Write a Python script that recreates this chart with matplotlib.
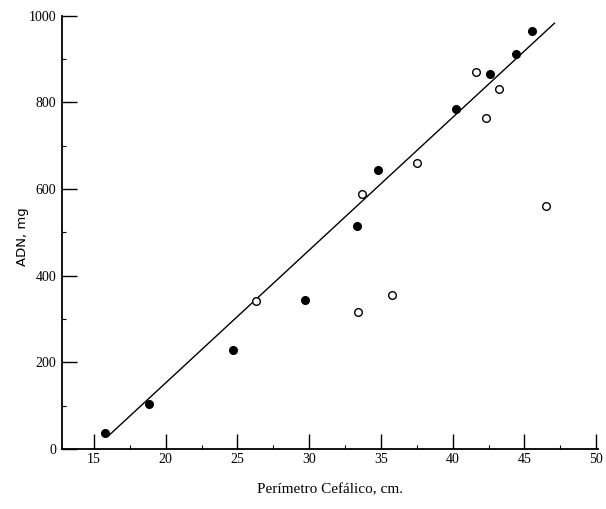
import matplotlib
matplotlib.use("Agg")
import matplotlib.pyplot as plt
import numpy as np
from matplotlib.ticker import MultipleLocator

# filled points
x_filled = [15.8, 18.8, 24.7, 29.7, 33.3, 34.8, 40.2, 42.6, 44.4, 45.5]
y_filled = [36, 103, 228, 343, 515, 643, 784, 865, 912, 966]
# open points
x_open = [26.3, 33.4, 33.7, 35.8, 37.5, 41.6, 42.3, 43.2, 46.5]
y_open = [341, 317, 589, 355, 661, 870, 765, 831, 561]
# regression line end points
line_x = [16.0, 47.1]
line_y = [30, 983]

fig = plt.figure(figsize=(6.06, 5.09), dpi=100)
ax = fig.add_axes([0.1023, 0.118, 0.885, 0.851])

ax.plot(line_x, line_y, color="black", lw=1.0)
ax.plot(x_filled, y_filled, "o", color="black", ms=5.5)
ax.plot(x_open, y_open, "o", mfc="white", mec="black", mew=1.0, ms=5.5)

ax.set_xlim(12.77, 50.15)
ax.set_ylim(0, 1000)
ax.xaxis.set_major_locator(MultipleLocator(5))
ax.xaxis.set_minor_locator(MultipleLocator(2.5))
ax.yaxis.set_major_locator(MultipleLocator(200))
ax.yaxis.set_minor_locator(MultipleLocator(100))

for s in ("top", "right"):
    ax.spines[s].set_visible(False)
for s in ("left", "bottom"):
    ax.spines[s].set_linewidth(1.3)

ax.tick_params(which="major", direction="in", length=11, width=1.0,
               labelsize=10)
ax.tick_params(which="minor", direction="in", length=3, width=0.8)
ax.tick_params(axis="y", pad=4)
ax.tick_params(axis="x", pad=3)
for lab in ax.get_xticklabels() + ax.get_yticklabels():
    lab.set_family("Liberation Serif")

ax.set_ylabel("ADN, mg", fontsize=9.5, family="DejaVu Sans")
ax.yaxis.set_label_coords(-0.062, 0.49)

fig.text(0.545, 0.037, "Perímetro Cefálico, cm.", ha="center", va="center",
         fontsize=11, family="Liberation Serif")

fig.savefig("out.png", dpi=100)
